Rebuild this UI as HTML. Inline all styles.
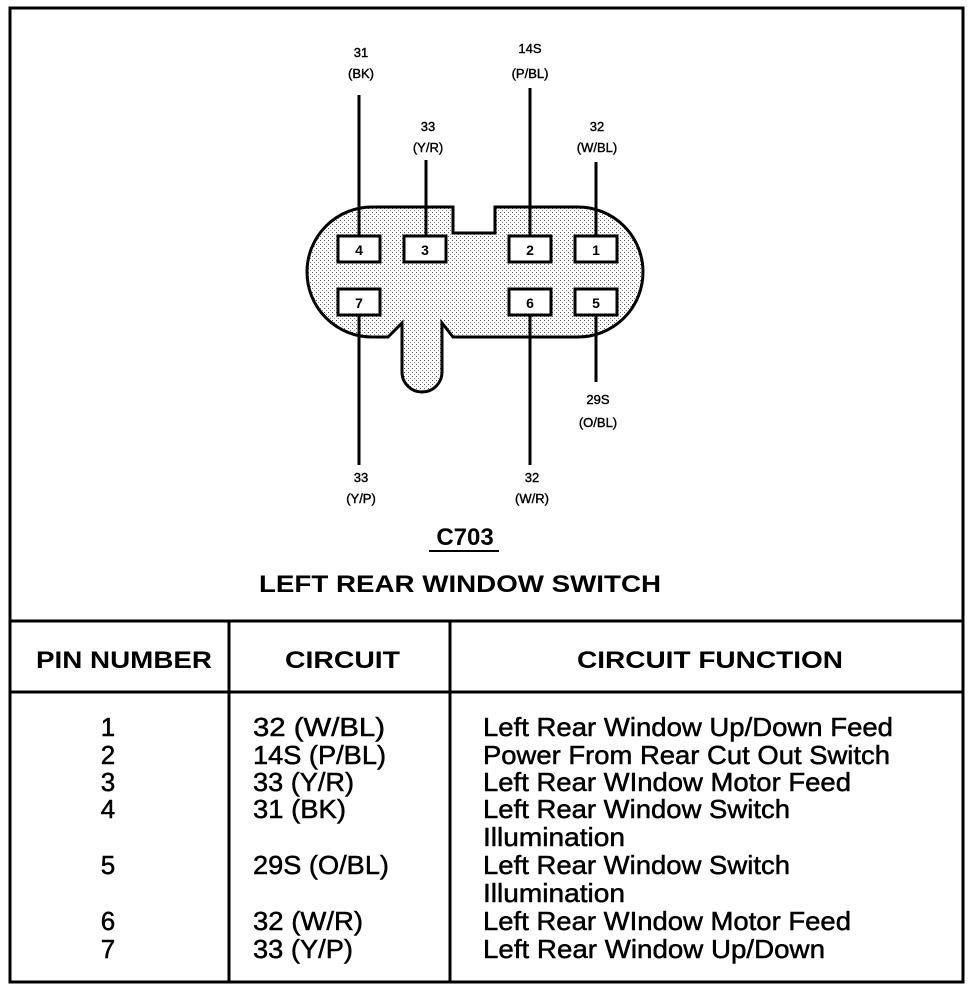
<!DOCTYPE html>
<html><head><meta charset="utf-8"><style>
html,body{margin:0;padding:0;background:#fff;}
svg{display:block;}
text{font-family:"Liberation Sans",Arial,sans-serif;fill:#000;}
</style></head><body>
<svg width="976" height="990" viewBox="0 0 976 990" xmlns="http://www.w3.org/2000/svg">
<defs>
<pattern id="dots" width="4" height="4" patternUnits="userSpaceOnUse">
<rect width="4" height="4" fill="#fff"/>
<rect x="0" y="0" width="1" height="1" fill="#555"/>
<rect x="2" y="2" width="1" height="1" fill="#888"/>
</pattern>
</defs>
<rect x="10" y="8" width="953" height="974" fill="none" stroke="#000" stroke-width="3"/>
<line x1="10" y1="621" x2="963" y2="621" stroke="#000" stroke-width="3"/>
<line x1="10" y1="692" x2="963" y2="692" stroke="#000" stroke-width="3"/>
<line x1="229" y1="621" x2="229" y2="982" stroke="#000" stroke-width="3"/>
<line x1="450" y1="621" x2="450" y2="982" stroke="#000" stroke-width="3"/>

<path d="M372,207 L453,207 L453,233 L495,233 L495,207 L578,207 A65,65 0 0 1 578,337 L453,337 L442,323 L442,372 A20,20 0 0 1 402,372 L402,323 L388,337 L372,337 A65,65 0 0 1 372,207 Z" fill="url(#dots)" stroke="#000" stroke-width="3"/>

<g stroke="#000" stroke-width="3">
<line x1="359" y1="95" x2="359" y2="236"/>
<line x1="426" y1="160" x2="426" y2="236"/>
<line x1="530" y1="88" x2="530" y2="236"/>
<line x1="596" y1="162" x2="596" y2="236"/>
<line x1="359" y1="314" x2="359" y2="465"/>
<line x1="530" y1="314" x2="530" y2="465"/>
<line x1="596" y1="314" x2="596" y2="382"/>
</g>
<g fill="#fff" stroke="#000" stroke-width="3">
<rect x="338" y="236" width="42" height="26"/>
<rect x="404" y="236" width="42" height="26"/>
<rect x="509" y="236" width="42" height="26"/>
<rect x="575" y="236" width="42" height="26"/>
<rect x="338" y="289" width="42" height="26"/>
<rect x="509" y="289" width="42" height="26"/>
<rect x="575" y="289" width="42" height="26"/>
</g>
<g font-size="14" font-weight="bold" text-anchor="middle">
<text x="359" y="255">4</text>
<text x="425" y="255">3</text>
<text x="530" y="255">2</text>
<text x="596" y="255">1</text>
<text x="359" y="308">7</text>
<text x="530" y="308">6</text>
<text x="596" y="308">5</text>
</g>
<g font-size="13" text-anchor="middle" stroke="#000" stroke-width="0.4">
<text x="361" y="57">31</text><text x="361" y="78">(BK)</text>
<text x="428" y="131">33</text><text x="428" y="152">(Y/R)</text>
<text x="530" y="53">14S</text><text x="530" y="78">(P/BL)</text>
<text x="597" y="131">32</text><text x="597" y="152">(W/BL)</text>
<text x="598" y="404">29S</text><text x="598" y="427">(O/BL)</text>
<text x="361" y="482">33</text><text x="361" y="503">(Y/P)</text>
<text x="532" y="482">32</text><text x="532" y="503">(W/R)</text>
</g>
<text x="465" y="545" font-size="24" font-weight="bold" text-anchor="middle">C703</text>
<line x1="429" y1="551" x2="499" y2="551" stroke="#000" stroke-width="2"/>
<text x="460" y="592" font-size="24" font-weight="bold" text-anchor="middle" textLength="402" lengthAdjust="spacingAndGlyphs">LEFT REAR WINDOW SWITCH</text>

<g font-size="24" font-weight="bold">
<text x="36" y="668" textLength="176" lengthAdjust="spacingAndGlyphs">PIN NUMBER</text>
<text x="285" y="668" textLength="115" lengthAdjust="spacingAndGlyphs">CIRCUIT</text>
<text x="577" y="668" textLength="266" lengthAdjust="spacingAndGlyphs">CIRCUIT FUNCTION</text>
</g>
<g font-size="26" stroke="#000" stroke-width="0.5">
<text x="108" y="736" text-anchor="middle">1</text>
<text x="108" y="764" text-anchor="middle">2</text>
<text x="108" y="791" text-anchor="middle">3</text>
<text x="108" y="818" text-anchor="middle">4</text>
<text x="108" y="874" text-anchor="middle">5</text>
<text x="108" y="930" text-anchor="middle">6</text>
<text x="108" y="958" text-anchor="middle">7</text>
<text x="253" y="736" textLength="132" lengthAdjust="spacingAndGlyphs">32 (W/BL)</text>
<text x="253" y="764" textLength="133" lengthAdjust="spacingAndGlyphs">14S (P/BL)</text>
<text x="253" y="791" textLength="101" lengthAdjust="spacingAndGlyphs">33 (Y/R)</text>
<text x="253" y="818" textLength="93" lengthAdjust="spacingAndGlyphs">31 (BK)</text>
<text x="253" y="874" textLength="136" lengthAdjust="spacingAndGlyphs">29S (O/BL)</text>
<text x="253" y="930" textLength="110" lengthAdjust="spacingAndGlyphs">32 (W/R)</text>
<text x="253" y="958" textLength="100" lengthAdjust="spacingAndGlyphs">33 (Y/P)</text>
<text x="483" y="736" textLength="410" lengthAdjust="spacingAndGlyphs">Left Rear Window Up/Down Feed</text>
<text x="483" y="764" textLength="407" lengthAdjust="spacingAndGlyphs">Power From Rear Cut Out Switch</text>
<text x="483" y="791" textLength="368" lengthAdjust="spacingAndGlyphs">Left Rear WIndow Motor Feed</text>
<text x="483" y="818" textLength="307" lengthAdjust="spacingAndGlyphs">Left Rear Window Switch</text>
<text x="483" y="846" textLength="142" lengthAdjust="spacingAndGlyphs">Illumination</text>
<text x="483" y="874" textLength="307" lengthAdjust="spacingAndGlyphs">Left Rear Window Switch</text>
<text x="483" y="902" textLength="142" lengthAdjust="spacingAndGlyphs">Illumination</text>
<text x="483" y="930" textLength="368" lengthAdjust="spacingAndGlyphs">Left Rear WIndow Motor Feed</text>
<text x="483" y="958" textLength="342" lengthAdjust="spacingAndGlyphs">Left Rear Window Up/Down</text>
</g>
</svg>
</body></html>
